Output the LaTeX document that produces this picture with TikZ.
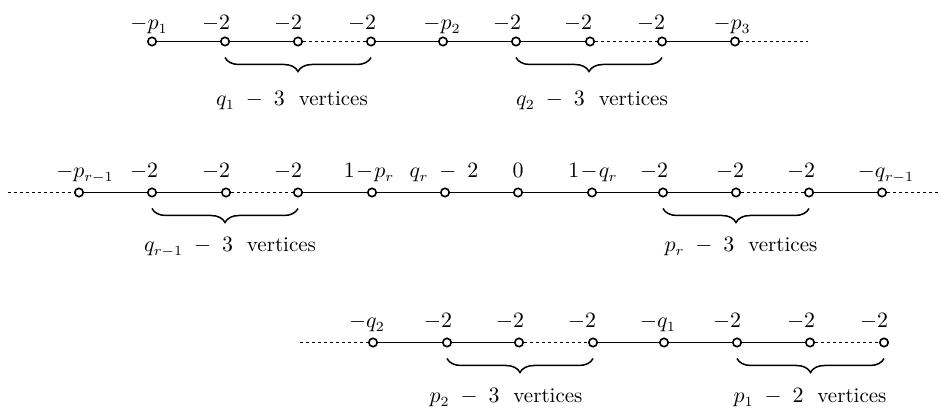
\documentclass[tikz,border=0pt]{standalone}
\usetikzlibrary{decorations.pathreplacing}

\tikzset{
  vtx/.style={circle,draw,fill=white,line width=0.8pt,inner sep=0pt,minimum size=4.2pt},
  lbl/.style={anchor=base,inner sep=0.75pt,font=\fontsize{10.5pt}{12.5pt}\selectfont},
  dots/.style={dash pattern=on 1.5pt off 1.5pt},
  brc/.style={decorate,decoration={brace,mirror,amplitude=7pt}},
}

\begin{document}
\begin{tikzpicture}[x=0.5pt,y=0.5pt,yscale=-1,line width=0.75pt]
\useasboundingbox (0,0) rectangle (941,410);

% first chain
\foreach \n/\x/\lx/\t in {1/152/149/-p_1,2/225/216/-2,3/298/288/-2,4/371/362/-2,
  5/443/442/-p_2,6/516/507/-2,7/590/578/-2,8/662/651/-2,9/735/732/-p_3}{
  \node[vtx] (a\n) at (\x,41.5) {};
  \node[lbl] (la\n) at (\lx,30) {$\t$};
}
\coordinate (a10) at (808,41.5);
\draw (a1) -- (a2) -- (a3);
\draw[dots] (a3) -- (a4);
\draw (a4) -- (a5) -- (a6) -- (a7);
\draw[dots] (a7) -- (a8);
\draw (a8) -- (a9);
\draw[dots] (a9) -- (a10);

\draw[brc] ([yshift=8pt]a2.center) -- ([yshift=8pt]a4.center);
\draw[brc] ([yshift=8pt]a6.center) -- ([yshift=8pt]a8.center);
\node[lbl] (ta1) at (292,106) {$q_1\;-\;3$\ \ vertices};
\node[lbl] (ta2) at (592,106) {$q_2\;-\;3$\ \ vertices};

% second chain
\foreach \n/\x/\lx/\t in {1/79/85/-p_{r-1},2/152/144/-2,3/226/216/-2,4/298/288/-2,
  5/372/369/1\!-\!p_r,6/445/444/q_r\;-\;2,7/518/518/0,8/592/593/1\!-\!q_r,
  9/663/654/-2,10/736/730/-2,11/809/801/-2,12/882/886/-q_{r-1}}{
  \node[vtx] (b\n) at (\x,192.5) {};
  \node[lbl] (lb\n) at (\lx,178) {$\t$};
}
\coordinate (b0) at (8,192.5);
\coordinate (b13) at (941,192.5);
\draw[dots] (b0) -- (b1);
\draw (b1) -- (b2) -- (b3);
\draw[dots] (b3) -- (b4);
\draw (b4) -- (b5) -- (b6) -- (b7) -- (b8) -- (b9) -- (b10);
\draw[dots] (b10) -- (b11);
\draw (b11) -- (b12);
\draw[dots] (b12) -- (b13);

\draw[brc] ([yshift=8pt]b2.center) -- ([yshift=8pt]b4.center);
\draw[brc] ([yshift=8pt]b9.center) -- ([yshift=8pt]b11.center);
\node[lbl] (tb1) at (230,252) {$q_{r-1}\;-\;3$\ \ vertices};
\node[lbl] (tb2) at (741,252) {$p_r\;-\;3$\ \ vertices};

% third chain
\foreach \n/\x/\lx/\t in {1/373/367/-q_2,2/447/438/-2,3/519/510/-2,4/593/582/-2,
  5/664/658/-q_1,6/737/727/-2,7/810/801/-2,8/884/874/-2}{
  \node[vtx] (c\n) at (\x,342.5) {};
  \node[lbl] (lc\n) at (\lx,328) {$\t$};
}
\coordinate (c0) at (300,342.5);
\draw[dots] (c0) -- (c1);
\draw (c1) -- (c2) -- (c3);
\draw[dots] (c3) -- (c4);
\draw (c4) -- (c5) -- (c6) -- (c7);
\draw[dots] (c7) -- (c8);

\draw[brc] ([yshift=8pt]c2.center) -- ([yshift=8pt]c4.center);
\draw[brc] ([yshift=8pt]c6.center) -- ([yshift=8pt]c8.center);
\node[lbl] (tc1) at (506,403) {$p_2\;-\;3$\ \ vertices};
\node[lbl] (tc2) at (810,403) {$p_1\;-\;2$\ \ vertices};
\end{tikzpicture}
\end{document}
